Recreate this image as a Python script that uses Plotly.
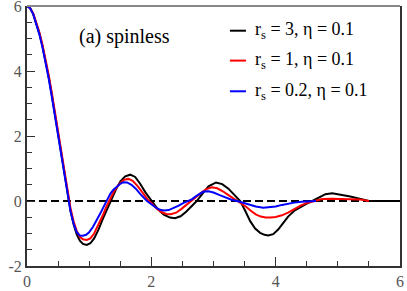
import plotly.graph_objects as go

# r_s = 3, eta = 0.1
black_x = [0, 0.05, 0.1, 0.15, 0.2, 0.25, 0.3, 0.35, 0.4, 0.45, 0.5, 0.55, 0.6, 0.65, 0.7, 0.75,
           0.8, 0.85, 0.9, 0.96, 1.02, 1.08, 1.15, 1.22, 1.29, 1.36, 1.43, 1.5, 1.58, 1.66, 1.74,
           1.82, 1.91, 2.0, 2.1, 2.2, 2.3, 2.38, 2.47, 2.56, 2.65, 2.73, 2.82, 2.92, 3.04, 3.14,
           3.24, 3.34, 3.43, 3.51, 3.59, 3.67, 3.75, 3.82, 3.88, 3.96, 4.04, 4.12, 4.2, 4.3, 4.4,
           4.5, 4.59, 4.7, 4.8, 4.91, 5.05, 5.2, 5.35, 5.5, 6.0]
black_y = [6, 5.93, 5.75, 5.48, 5.15, 4.75, 4.3, 3.8, 3.25, 2.65, 2.05, 1.42, 0.8, 0.22, -0.3, -0.72,
           -1.03, -1.22, -1.32, -1.35, -1.3, -1.15, -0.88, -0.55, -0.22, 0.05, 0.35, 0.6, 0.76, 0.81, 0.74,
           0.53, 0.25, 0.0, -0.24, -0.42, -0.51, -0.53, -0.47, -0.33, -0.16, 0.0, 0.22, 0.45, 0.57, 0.52,
           0.38, 0.19, 0.0, -0.3, -0.62, -0.85, -0.98, -1.04, -1.06, -1.02, -0.88, -0.68, -0.48, -0.3, -0.18,
           -0.08, 0.0, 0.12, 0.21, 0.24, 0.2, 0.14, 0.07, 0.0, 0.0]

# r_s = 1, eta = 0.1
red_x = [0, 0.05, 0.1, 0.15, 0.2, 0.25, 0.3, 0.35, 0.4, 0.45, 0.5, 0.55, 0.6, 0.65, 0.7, 0.75,
         0.8, 0.85, 0.9, 0.96, 1.02, 1.08, 1.15, 1.22, 1.28, 1.33, 1.4, 1.48, 1.56, 1.63, 1.7,
         1.78, 1.86, 1.94, 2.01, 2.08, 2.16, 2.24, 2.31, 2.4, 2.48, 2.56, 2.64, 2.72, 2.8, 2.88,
         2.97, 3.06, 3.15, 3.24, 3.34, 3.43, 3.52, 3.6, 3.68, 3.76, 3.84, 3.92, 4.0, 4.1, 4.2,
         4.3, 4.4, 4.5, 4.63, 4.75, 4.9, 5.05, 5.2, 5.35, 5.5]
red_y = [6, 5.94, 5.77, 5.5, 5.18, 4.8, 4.35, 3.86, 3.32, 2.72, 2.12, 1.5, 0.88, 0.3, -0.22, -0.63,
         -0.92, -1.1, -1.18, -1.2, -1.15, -1.0, -0.74, -0.44, -0.16, 0.05, 0.3, 0.52, 0.65, 0.68, 0.62,
         0.46, 0.24, 0.05, -0.08, -0.22, -0.34, -0.4, -0.41, -0.36, -0.25, -0.12, 0.0, 0.12, 0.25, 0.36,
         0.42, 0.39, 0.3, 0.18, 0.06, -0.04, -0.17, -0.3, -0.41, -0.48, -0.51, -0.51, -0.49, -0.44, -0.36,
         -0.25, -0.14, -0.06, 0.01, 0.06, 0.07, 0.07, 0.06, 0.05, 0.0]

# r_s = 0.2, eta = 0.1
blue_x = [0, 0.05, 0.1, 0.15, 0.2, 0.25, 0.3, 0.35, 0.4, 0.45, 0.5, 0.55, 0.6, 0.65, 0.7, 0.75,
          0.8, 0.85, 0.9, 0.95, 1.0, 1.06, 1.12, 1.18, 1.24, 1.28, 1.34, 1.39, 1.45, 1.5, 1.55,
          1.61, 1.68, 1.75, 1.82, 1.88, 1.93, 2.0, 2.07, 2.14, 2.2, 2.28, 2.36, 2.44, 2.52, 2.6,
          2.65, 2.72, 2.78, 2.84, 2.92, 3.0, 3.1, 3.2, 3.29, 3.38, 3.48, 3.58, 3.68, 3.8, 3.9,
          4.0, 4.1, 4.2, 4.3, 4.42, 4.55, 4.65]
blue_y = [6, 5.93, 5.75, 5.46, 5.12, 4.72, 4.26, 3.76, 3.2, 2.6, 2.0, 1.37, 0.75, 0.18, -0.32, -0.7,
          -0.96, -1.06, -1.07, -1.04, -0.96, -0.8, -0.6, -0.38, -0.15, 0.0, 0.22, 0.35, 0.45, 0.53, 0.58,
          0.57, 0.5, 0.38, 0.22, 0.1, 0.0, -0.1, -0.2, -0.27, -0.29, -0.28, -0.22, -0.14, -0.06, 0.0,
          0.05, 0.15, 0.23, 0.29, 0.3, 0.26, 0.18, 0.1, 0.04, 0.0, -0.06, -0.12, -0.17, -0.21, -0.2,
          -0.17, -0.12, -0.08, -0.05, -0.02, 0.0, 0.0]

x_ticks = [0, 2, 4, 6]
y_ticks = [-2, 0, 2, 4, 6]
y_labels = ["-2", "0", "2", "4", "6"]

names = ["r<sub>s</sub> = 3, η = 0.1", "r<sub>s</sub> = 1, η = 0.1", "r<sub>s</sub> = 0.2, η = 0.1"]
colors = ["#000000", "#ff0000", "#0000ff"]

FONT = "Liberation Serif"
TICKFONT = dict(family=FONT, size=16, color="#555555")

fig = go.Figure()
fig.add_trace(go.Scatter(x=[0, 6], y=[0, 0], mode="lines",
                         line=dict(color="black", width=2, dash="8px,4px"),
                         showlegend=False, hoverinfo="skip"))
for xs, ys, c in zip([black_x, red_x, blue_x], [black_y, red_y, blue_y], colors):
    fig.add_trace(go.Scatter(x=xs, y=ys, mode="lines",
                             line=dict(color=c, width=2), showlegend=False))

# hand-made legend (short line samples like the original)
leg_y = [0.905, 0.79, 0.672]
for nm, c, yy in zip(names, colors, leg_y):
    fig.add_shape(type="line", xref="paper", yref="paper",
                  x0=0.544, x1=0.587, y0=yy, y1=yy, line=dict(color=c, width=2))
    fig.add_annotation(x=0.606, y=yy, xref="paper", yref="paper", text=nm,
                       showarrow=False, xanchor="left", yanchor="middle",
                       font=dict(family=FONT, size=18, color="black"))

fig.add_annotation(x=0.135, y=0.882, xref="paper", yref="paper", text="(a) spinless",
                   showarrow=False, xanchor="left", yanchor="middle",
                   font=dict(family=FONT, size=20, color="black"))

# grey top frame line
fig.add_shape(type="line", xref="paper", yref="paper", x0=0, x1=1, y0=1, y1=1,
              line=dict(color="#888888", width=2))

fig.update_layout(
    width=407, height=291,
    margin=dict(l=27, r=7, t=6, b=25),
    paper_bgcolor="white", plot_bgcolor="white",
    font=dict(family=FONT, size=16, color="#555555"),
    showlegend=False,
)
fig.update_xaxes(range=[0, 6], tickvals=x_ticks, ticks="inside", ticklen=9, tickwidth=1,
                 tickcolor="#333333", tickfont=TICKFONT, ticklabeloverflow="allow",
                 showline=True, linecolor="#333333", linewidth=2, showgrid=False,
                 zeroline=False, automargin=False,
                 minor=dict(dtick=0.5, ticks="inside", ticklen=5, tickcolor="#333333"))
fig.update_yaxes(range=[-2, 6], tickvals=y_ticks, ticktext=y_labels, ticks="inside", ticklen=8,
                 tickwidth=1, tickcolor="#333333", tickfont=TICKFONT, ticklabeloverflow="allow",
                 showline=True, linecolor="#333333", linewidth=2, mirror=True, showgrid=False,
                 zeroline=False, automargin=False,
                 minor=dict(dtick=0.5, ticks="inside", ticklen=5, tickcolor="#333333"))

fig.write_html("out.html", config={"displayModeBar": False},
               post_script="document.body.style.margin='0px';")
